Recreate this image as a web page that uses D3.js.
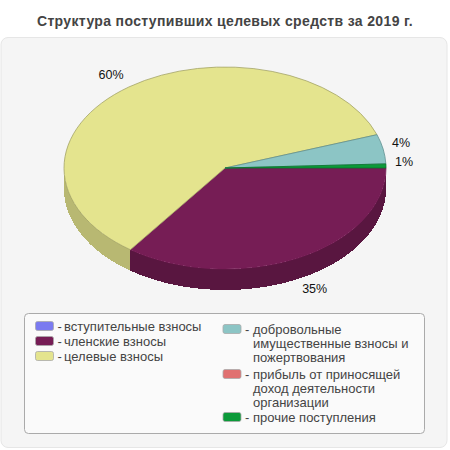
<!DOCTYPE html>
<html>
<head>
<meta charset="utf-8">
<script src="https://cdn.jsdelivr.net/npm/d3@7"></script>
<style>
    html, body { margin: 0; padding: 0; background: #fff; }
    svg { display: block; font-family: "Liberation Sans", Arial, sans-serif; }
</style>
</head>
<body>
<svg id="chart" width="450" height="450"></svg>
<script>
// order of slices, clockwise from 3 o'clock
const categories = ['вступительные взносы', 'членские взносы', 'целевые взносы',
    'добровольные имущественные взносы и пожертвования',
    'прибыль от приносящей доход деятельности организации', 'прочие поступления'];
const values = [0, 35, 59.65, 4.7, 0, 0.65];
const percentLabels = ['', '35%', '60%', '4%', '', '1%'];
const topColors = ['#7b7bf0', '#761d55', '#e4e48e', '#8cc5c5', '#e07070', '#0b9a39'];
const sideColors = ['#5c5cb4', '#591640', '#b8b872', '#699494', '#a85454', '#08742b'];
const edgeColors = ['#5c5cb4', '#761d55', '#a3a366', '#5f9090', '#a85454', '#08742b'];

const legendLeft = [
    { i: 0, lines: ['вступительные взносы'] },
    { i: 1, lines: ['членские взносы'] },
    { i: 2, lines: ['целевые взносы'] }
];
const legendRight = [
    { i: 3, lines: ['добровольные', 'имущественные взносы и', 'пожертвования'] },
    { i: 4, lines: ['прибыль от приносящей', 'доход деятельности', 'организации'] },
    { i: 5, lines: ['прочие поступления'] }
];

const svg = d3.select('#chart');

svg.append('text')
    .attr('x', 225).attr('y', 26)
    .attr('text-anchor', 'middle')
    .attr('font-size', 14).attr('font-weight', 'bold')
    .attr('letter-spacing', 0.35)
    .attr('fill', '#444')
    .text('Структура поступивших целевых средств за 2019 г.');

// background panel
svg.append('rect')
    .attr('x', 1).attr('y', 37.5).attr('width', 446).attr('height', 410).attr('rx', 7)
    .attr('fill', '#f5f5f5').attr('stroke', '#e6e6e6').attr('stroke-width', 1);

// pie geometry
const cx = 225, cy = 168, rx = 161, ry = 101, depth = 21;

const pie = d3.pie().sort(null).value(d => d)
    .startAngle(Math.PI / 2).endAngle(Math.PI / 2 + 2 * Math.PI);
const slices = pie(values);

const px = a => rx * Math.sin(a);
const py = a => -ry * Math.cos(a);

const plot = svg.append('g').attr('transform', `translate(${cx},${cy})`);

// side walls, only the part facing front (d3 angles from pi/2 to 3pi/2)
slices.forEach((s, i) => {
    const a0 = Math.max(s.startAngle, Math.PI / 2);
    const a1 = Math.min(s.endAngle, 3 * Math.PI / 2);
    if (a1 <= a0) return;
    const d = `M${px(a0)},${py(a0)}A${rx},${ry} 0 0 1 ${px(a1)},${py(a1)}` +
        `L${px(a1)},${py(a1) + depth}A${rx},${ry} 0 0 0 ${px(a0)},${py(a0) + depth}Z`;
    plot.append('path').attr('d', d)
        .attr('fill', sideColors[i])
        .attr('shape-rendering', 'crispEdges');
});

// top of the pie, a circular arc squashed to an ellipse
const arc = d3.arc().innerRadius(0).outerRadius(rx);
plot.append('g').attr('transform', `scale(1,${ry / rx})`)
    .selectAll('path')
    .data(slices.filter(s => s.value > 0))
    .enter()
    .append('path')
    .attr('d', arc)
    .attr('fill', d => topColors[d.index])
    .attr('stroke', d => edgeColors[d.index])
    .attr('stroke-width', 0.8)
    .attr('vector-effect', 'non-scaling-stroke');

// percent labels, anchored just outside the rim
slices.forEach((s, i) => {
    if (!percentLabels[i]) return;
    const mid = (s.startAngle + s.endAngle) / 2;
    const right = Math.sin(mid) > 0;
    const front = Math.cos(mid) < 0;
    plot.append('text')
        .attr('x', (rx + 9) * Math.sin(mid))
        .attr('y', -(ry + (front ? 16 : 10)) * Math.cos(mid) + (front ? depth : 0))
        .attr('text-anchor', right ? 'start' : 'end')
        .attr('font-size', 12.5).attr('fill', '#111')
        .text(percentLabels[i]);
});

// legend
svg.append('rect')
    .attr('x', 24.5).attr('y', 313.5).attr('width', 400).attr('height', 120).attr('rx', 4)
    .attr('fill', '#fafafa').attr('stroke', '#aaa');

function legendColumn(items, swatchX, textOffset, baselines) {
    items.forEach((item, n) => {
        const y = baselines[n];
        svg.append('rect')
            .attr('x', swatchX).attr('y', y - 9.5).attr('width', 18).attr('height', 9).attr('rx', 2)
            .attr('fill', topColors[item.i]).attr('stroke', '#aaa').attr('stroke-width', 0.8);
        svg.append('text')
            .attr('x', swatchX + 22).attr('y', y)
            .attr('font-size', 13).attr('fill', '#444')
            .text('-');
        item.lines.forEach((line, l) => {
            svg.append('text')
                .attr('x', swatchX + textOffset).attr('y', y + l * 14)
                .attr('font-size', 13).attr('fill', '#444')
                .text(line);
        });
    });
}
legendColumn(legendLeft, 35.5, 28.5, [331, 346, 361]);
legendColumn(legendRight, 223, 30, [334, 379, 422]);
</script>
</body>
</html>
